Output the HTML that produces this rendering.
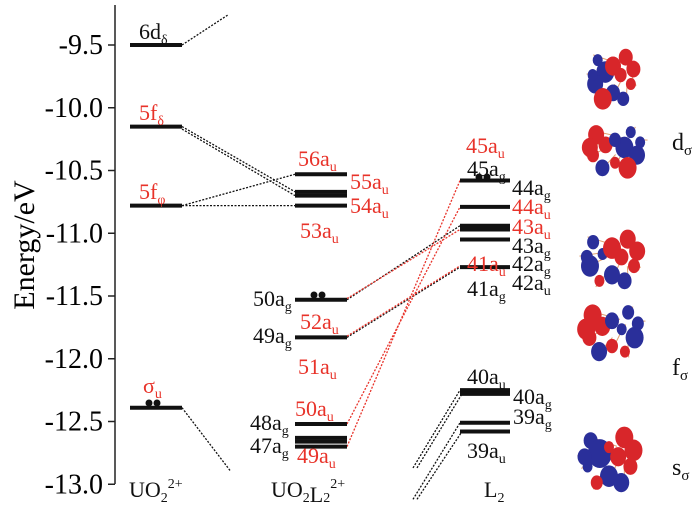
<!DOCTYPE html>
<html><head><meta charset="utf-8"><style>
body{margin:0;background:#fff;font-family:"Liberation Serif","Times New Roman","DejaVu Serif",serif}
svg{display:block}
text,tspan{font-family:"Liberation Serif","Times New Roman","DejaVu Serif",serif !important}
.r{fill:#e8332a}.k{fill:#111}
</style></head><body>
<svg id="c" width="700" height="512" viewBox="0 0 700 512" style="font-family:'Liberation Serif',serif">
<line x1="115" y1="5" x2="115" y2="484" stroke="#222" stroke-width="1.5"/>
<g id="ticks"></g>
<text transform="translate(34,245) rotate(-90)" text-anchor="middle" font-size="30">Energy/eV</text>
<g id="lines"></g><g id="levels"></g><g id="blobs"></g>
<g font-size="22" id="labels">
<text x="139" y="39" class="k">6d<tspan font-size="14" dy="5">δ</tspan></text>
<text x="139" y="120" class="r">5f<tspan font-size="14" dy="5">δ</tspan></text>
<text x="139" y="199" class="r">5f<tspan font-size="14" dy="5">φ</tspan></text>
<text x="143" y="393" class="r">σ<tspan font-size="14" dy="5">u</tspan></text>
<text x="129" y="497" class="k">UO<tspan font-size="14" dy="5">2</tspan><tspan font-size="14" dy="-14">2+</tspan></text>
<text x="298" y="166" class="r">56a<tspan font-size="14" dy="5">u</tspan></text>
<text x="350" y="189" class="r">55a<tspan font-size="14" dy="5">u</tspan></text>
<text x="350" y="213" class="r">54a<tspan font-size="14" dy="5">u</tspan></text>
<text x="300" y="238" class="r">53a<tspan font-size="14" dy="5">u</tspan></text>
<text x="253" y="306" class="k">50a<tspan font-size="14" dy="5">g</tspan></text>
<text x="300" y="329" class="r">52a<tspan font-size="14" dy="5">u</tspan></text>
<text x="253" y="343" class="k">49a<tspan font-size="14" dy="5">g</tspan></text>
<text x="298" y="374" class="r">51a<tspan font-size="14" dy="5">u</tspan></text>
<text x="295" y="416" class="r">50a<tspan font-size="14" dy="5">u</tspan></text>
<text x="250" y="430" class="k">48a<tspan font-size="14" dy="5">g</tspan></text>
<text x="250" y="453" class="k">47a<tspan font-size="14" dy="5">g</tspan></text>
<text x="297" y="463" class="r">49a<tspan font-size="14" dy="5">u</tspan></text>
<text x="271" y="497" class="k">UO<tspan font-size="14" dy="5">2</tspan>L<tspan font-size="14" dy="0">2</tspan><tspan font-size="14" dy="-14">2+</tspan></text>
<text x="466" y="153" class="r">45a<tspan font-size="14" dy="5">u</tspan></text>
<text x="467" y="176" class="k">45a<tspan font-size="14" dy="5">g</tspan></text>
<text x="512" y="195" class="k">44a<tspan font-size="14" dy="5">g</tspan></text>
<text x="512" y="214" class="r">44a<tspan font-size="14" dy="5">u</tspan></text>
<text x="512" y="234" class="r">43a<tspan font-size="14" dy="5">u</tspan></text>
<text x="512" y="253" class="k">43a<tspan font-size="14" dy="5">g</tspan></text>
<text x="467" y="271" class="r">41a<tspan font-size="14" dy="5">u</tspan></text>
<text x="512" y="271" class="k">42a<tspan font-size="14" dy="5">g</tspan></text>
<text x="512" y="290" class="k">42a<tspan font-size="14" dy="5">u</tspan></text>
<text x="467" y="296" class="k">41a<tspan font-size="14" dy="5">g</tspan></text>
<text x="467" y="384" class="k">40a<tspan font-size="14" dy="5">u</tspan></text>
<text x="513" y="404" class="k">40a<tspan font-size="14" dy="5">g</tspan></text>
<text x="513" y="424" class="k">39a<tspan font-size="14" dy="5">g</tspan></text>
<text x="467" y="458" class="k">39a<tspan font-size="14" dy="5">u</tspan></text>
<text x="484" y="497" class="k">L<tspan font-size="14" dy="5">2</tspan></text>
<text x="672" y="150" class="k" font-size="24">d<tspan font-size="15" dy="5">σ</tspan></text>
<text x="672" y="375" class="k" font-size="24">f<tspan font-size="15" dy="5">σ</tspan></text>
<text x="672" y="475" class="k" font-size="24">s<tspan font-size="15" dy="5">σ</tspan></text>
</g>
<g fill="#111">
<circle cx="149" cy="403" r="3.5"/><circle cx="157" cy="403" r="3.5"/>
<circle cx="314" cy="295" r="3.5"/><circle cx="322" cy="295" r="3.5"/>
<circle cx="479" cy="177" r="3.5"/><circle cx="487" cy="177" r="3.5"/>
</g>
</svg>
<script>
const tickValues=[-9.5,-10.0,-10.5,-11.0,-11.5,-12.0,-12.5,-13.0];
const uo2Levels=[-9.5,-10.15,-10.78,-12.39];
const complexLevels=[-10.53,-10.67,-10.70,-10.78,-11.53,-11.83,-12.52,-12.63,-12.66,-12.70];
const ligandLevels=[-10.58,-10.79,-10.94,-10.97,-11.05,-11.27,-12.25,-12.28,-12.51,-12.58];
const NS="http://www.w3.org/2000/svg";
const y=e=>45+(-9.5-e)*125.5;
function mk(tag,attrs,parent){const el=document.createElementNS(NS,tag);for(const k in attrs)el.setAttribute(k,attrs[k]);parent.appendChild(el);return el;}
const tk=document.getElementById('ticks');
tickValues.forEach(v=>{
 const l=mk('line',{x1:108,x2:115,y1:y(v),y2:y(v),stroke:'#222','stroke-width':1.5},tk);
 
 
 const t=mk('text',{x:103,y:y(v)+9,'text-anchor':'end','font-size':28},tk);
 t.textContent=v.toFixed(1);
 
 
});
const lv=document.getElementById('levels');
function drawLevels(arr,x1,x2,name){arr.forEach(e=>{
 const l=mk('line',{x1:x1,x2:x2,y1:y(e),y2:y(e),stroke:'#111','stroke-width':4},lv);
 
 
});}
drawLevels(uo2Levels,130,182,'uo2-level');
drawLevels(complexLevels,295,347,'complex-level');
drawLevels(ligandLevels,460,510,'ligand-level');
const ln=document.getElementById('lines');
function conn(x1,e1,x2,e2,col){
 const l=mk('line',{x1:x1,y1:y(e1),x2:x2,y2:y(e2),stroke:col,'stroke-width':1.3,'stroke-dasharray':'2,1.5'},ln);
 
 
}
const K='#111',R='#e8332a';
conn(182,uo2Levels[0],228,-9.26,K);
conn(182,uo2Levels[1],295,complexLevels[1],K);conn(182,uo2Levels[1]-0.02,295,complexLevels[2],K);
conn(182,uo2Levels[2],295,complexLevels[0],K);conn(182,uo2Levels[2],295,complexLevels[3],K);
conn(182,uo2Levels[3],230,-12.89,K);
conn(347,complexLevels[4],460,ligandLevels[2],K);conn(347,complexLevels[4]+0.01,460,ligandLevels[3],R);
conn(347,complexLevels[5],460,ligandLevels[5],K);conn(347,complexLevels[5]+0.01,460,ligandLevels[5]+0.01,R);
conn(347,complexLevels[6],460,ligandLevels[1],R);conn(347,complexLevels[9],460,ligandLevels[0],R);
conn(413,-12.87,460,ligandLevels[6],K);conn(417,-12.87,462,ligandLevels[7],K);
conn(413,-13.12,460,ligandLevels[8],K);conn(417,-13.12,462,ligandLevels[9],K);
const bl=document.getElementById('blobs');
const clusters=[[613,78,30,35],[615,150,37,30],[612,260,37,35],[612,332,38,33],[609,460,36,38]];
const pat=[[-.6,-.6],[.5,-.7],[-.3,-.2],[.3,-.1],[-.7,.2],[.7,.2],[0,.5],[-.4,.7],[.4,.7],[0,-.4],[-.8,-.1],[.8,-.3]];
clusters.forEach((c,i)=>{
 const g=mk('g',{},bl);
 
 
 pat.forEach(p=>{
  mk('line',{x1:c[0]+p[0]*c[2]*1.1,y1:c[1]+p[1]*c[3]*1.1,x2:c[0]+p[0]*c[2]*0.5+8,y2:c[1]+p[1]*c[3]*0.5-6,stroke:'#e0a070','stroke-width':1},g);
 });
 pat.forEach((p,j)=>{
  const r=(i===4&&j===2)?12:5+((j*7+i*3)%5);
  mk('ellipse',{cx:c[0]+p[0]*c[2]*0.85,cy:c[1]+p[1]*c[3]*0.85,rx:r,ry:r*1.2,fill:(j+i)%2?'#d8262a':'#2a2f9a'},g);
 });
});
</script>
</body></html>
